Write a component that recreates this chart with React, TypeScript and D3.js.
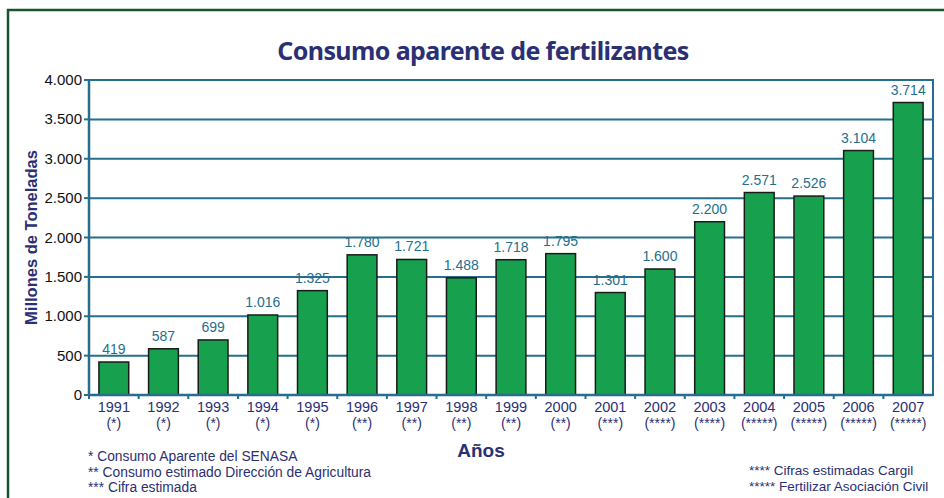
import React from "react";
import * as d3 from "d3";

const years = ["1991","1992","1993","1994","1995","1996","1997","1998","1999","2000","2001","2002","2003","2004","2005","2006","2007"];
const sources = ["(*)","(*)","(*)","(*)","(*)","(**)","(**)","(**)","(**)","(**)","(***)","(****)","(****)","(*****)","(*****)","(*****)","(*****)"];
const consumption = [419, 587, 699, 1016, 1325, 1780, 1721, 1488, 1718, 1795, 1301, 1600, 2200, 2571, 2526, 3104, 3714];
const yTicks = [0, 500, 1000, 1500, 2000, 2500, 3000, 3500, 4000];
const notesLeft = ["* Consumo Aparente del SENASA", "** Consumo estimado Dirección de Agricultura", "*** Cifra estimada"];
const notesRight = ["**** Cifras estimadas Cargil", "***** Fertilizar Asociación Civil"];

const W = 944;
const H = 498;
const M = { left: 89, right: 933, top: 80, bottom: 395 };

const NAVY = "#2b2f74";
const TEAL = "#256f8c";
const GREEN = "#17a14f";

const fmt = (v: number) => d3.format(",")(v).replace(/,/g, ".");

export default function App() {
  const x = d3.scaleBand<string>().domain(years).range([M.left, M.right]).paddingInner(0.4).paddingOuter(0.2);
  const band = d3.scaleBand<string>().domain(years).range([M.left, M.right]);
  const y = d3.scaleLinear().domain([0, 4000]).range([M.bottom, M.top]);
  const font = "'Liberation Sans', Arial, sans-serif";

  return (
    <svg width={W} height={H} style={{ position: "absolute", left: 0, top: 0, background: "#fff" }} fontFamily={font}>
      <rect x={0} y={0} width={W} height={H} fill="#fff" />
      <rect x={8} y={10} width={W + 20} height={H + 20} fill="none" stroke="#1d5230" strokeWidth={2.5} />

      <text x={483} y={60} textAnchor="middle" fontFamily="'Noto Sans', 'Open Sans', sans-serif" fontWeight="bold" fontSize={25} fill={NAVY} letterSpacing={-0.6}>
        Consumo aparente de fertilizantes
      </text>

      {/* grid lines and y ticks */}
      {yTicks.map((t) => (
        <g key={t}>
          {t > 0 && <line x1={M.left} x2={M.right} y1={y(t)} y2={y(t)} stroke={TEAL} strokeWidth={2} />}
          <line x1={M.left - 5} x2={M.left} y1={y(t)} y2={y(t)} stroke={TEAL} strokeWidth={2} />
          <text x={82} y={y(t) + 5} textAnchor="end" fontSize={15} fill="#111">{fmt(t)}</text>
        </g>
      ))}

      {/* bars */}
      {years.map((yr, i) => (
        <g key={yr}>
          <rect x={x(yr)!} y={y(consumption[i])} width={x.bandwidth()} height={y(0) - y(consumption[i])} fill={GREEN} stroke="#1a1a1a" strokeWidth={1.5} />
          <text x={x(yr)! + x.bandwidth() / 2} y={y(consumption[i]) - 8} textAnchor="middle" fontSize={14} fill={TEAL}>{fmt(consumption[i])}</text>
        </g>
      ))}

      {/* frame: left, right and bottom axis */}
      <line x1={M.left} x2={M.left} y1={M.top - 1} y2={M.bottom + 1} stroke={TEAL} strokeWidth={2.5} />
      <line x1={M.right} x2={M.right} y1={M.top - 1} y2={M.bottom + 1} stroke={TEAL} strokeWidth={2} />
      <line x1={M.left} x2={M.right} y1={M.bottom} y2={M.bottom} stroke={TEAL} strokeWidth={2.5} />
      {years.map((yr) => (
        <line key={"t" + yr} x1={band(yr)!} x2={band(yr)!} y1={M.bottom} y2={M.bottom + 4} stroke={TEAL} strokeWidth={2} />
      ))}

      {/* category labels */}
      {years.map((yr, i) => (
        <g key={"l" + yr}>
          <text x={x(yr)! + x.bandwidth() / 2} y={412} textAnchor="middle" fontSize={14.5} fill={NAVY}>{yr}</text>
          <text x={x(yr)! + x.bandwidth() / 2} y={428} textAnchor="middle" fontSize={14} fill={NAVY}>{sources[i]}</text>
        </g>
      ))}

      <text transform={`translate(37,${(M.top + M.bottom) / 2}) rotate(-90)`} textAnchor="middle" fontWeight="bold" fontSize={16.5} fill={NAVY}>
        Millones de Toneladas
      </text>
      <text x={481} y={457} textAnchor="middle" fontWeight="bold" fontSize={19} fill={NAVY}>Años</text>

      {notesLeft.map((n, i) => (
        <text key={n} x={88} y={461 + i * 15.5} fontSize={13.8} fill={NAVY}>{n}</text>
      ))}
      {notesRight.map((n, i) => (
        <text key={n} x={749} y={475 + i * 15.5} fontSize={13.5} fill={NAVY}>{n}</text>
      ))}
    </svg>
  );
}
